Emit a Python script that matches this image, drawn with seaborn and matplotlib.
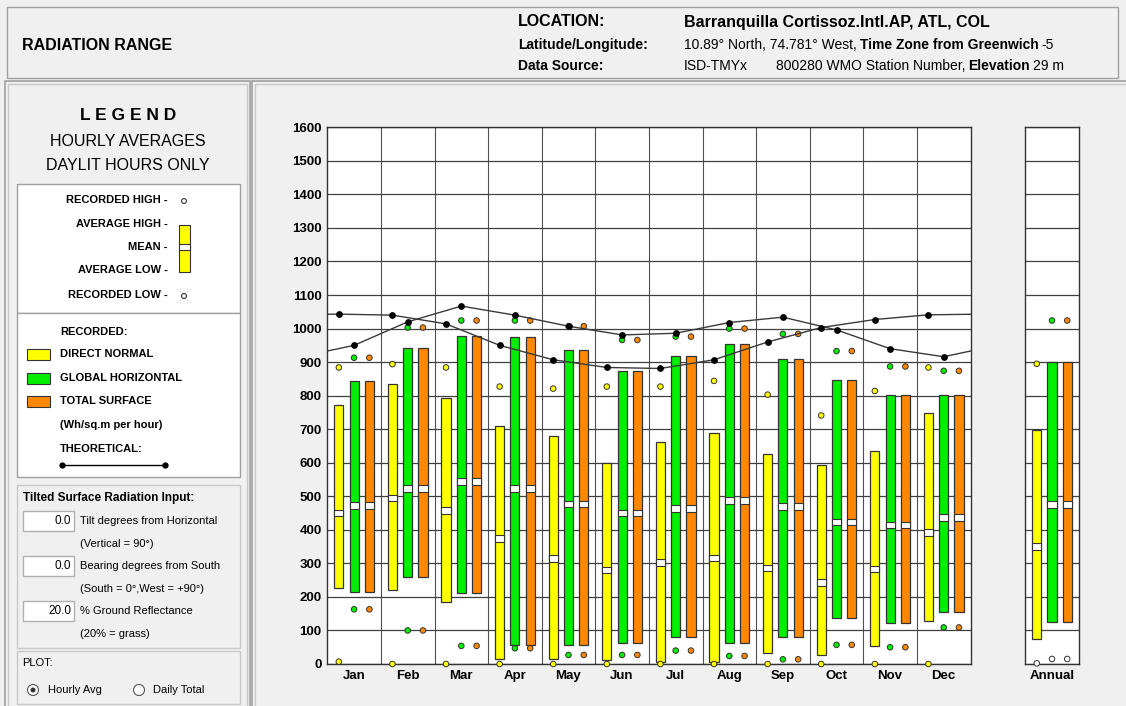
import numpy as np
import pandas as pd
import matplotlib
matplotlib.use("Agg")
import matplotlib.pyplot as plt
from matplotlib.patches import Rectangle, Circle
import seaborn as sns

months = ["Jan", "Feb", "Mar", "Apr", "May", "Jun", "Jul", "Aug", "Sep", "Oct", "Nov", "Dec"]

# direct normal (Wh/sq.m per hour)
dn_avg_high = [773, 836, 792, 710, 680, 599, 663, 690, 626, 592, 636, 747]
dn_avg_low = [227, 221, 186, 14, 16, 12, 7, 7, 34, 27, 54, 127]
dn_mean = [450, 495, 457, 374, 314, 280, 303, 316, 286, 244, 283, 393]
dn_rec_high = [884, 894, 884, 827, 821, 827, 827, 844, 803, 741, 814, 884]
dn_rec_low = [7, 0, 0, 0, 0, 0, 0, 0, 0, 0, 0, 0]

# global horizontal
gh_avg_high = [844, 943, 979, 976, 936, 874, 919, 953, 910, 847, 803, 803]
gh_avg_low = [216, 260, 213, 56, 57, 64, 80, 64, 80, 136, 121, 156]
gh_mean = [473, 524, 544, 524, 477, 450, 463, 487, 470, 423, 414, 436]
gh_rec_high = [913, 1003, 1024, 1024, 1007, 966, 976, 1000, 984, 933, 887, 874]
gh_rec_low = [163, 100, 54, 47, 27, 27, 40, 24, 14, 57, 50, 109]

# total surface (tilt 0 -> same as global horizontal)
ts_avg_high = [844, 943, 979, 976, 936, 874, 919, 953, 910, 847, 803, 803]
ts_avg_low = [216, 260, 213, 56, 57, 64, 80, 64, 80, 136, 121, 156]
ts_mean = [473, 524, 544, 524, 477, 450, 463, 487, 470, 423, 414, 436]
ts_rec_high = [913, 1003, 1024, 1024, 1007, 966, 976, 1000, 984, 933, 887, 874]
ts_rec_low = [163, 100, 54, 47, 27, 27, 40, 24, 14, 57, 50, 109]

# theoretical
dn_theo = [1043, 1040, 1014, 950, 907, 884, 881, 907, 960, 1003, 1027, 1041]
gh_theo = [950, 1020, 1067, 1040, 1007, 981, 986, 1018, 1034, 996, 940, 916]

# annual: avg high, avg low, mean, recorded high, recorded low
annual_dn = [699, 76, 351, 895, 2]
annual_gh = [900, 124, 476, 1024, 15]
annual_ts = [900, 124, 476, 1024, 15]

yticks = list(range(0, 1700, 100))

W, H = 1126, 706
BG = "#f0f0f0"
EDGE = "#333333"
colors = {"dn": "#ffff00", "gh": "#00ee00", "ts": "#ff8800"}
offsets = {"dn": -0.285, "gh": 0.0, "ts": 0.285}
BW = 0.17

sns.set_style("white")
plt.rcParams["font.family"] = ["Liberation Sans", "DejaVu Sans"]
plt.rcParams["text.color"] = "black"
plt.rcParams["xtick.color"] = "black"
plt.rcParams["ytick.color"] = "black"

fig = plt.figure(figsize=(W / 100, H / 100), dpi=100, facecolor=BG)

def rect(x0, y0, x1, y1):
    return [x0 / W, 1 - y1 / H, (x1 - x0) / W, (y1 - y0) / H]

# background / chrome axes in pixel coordinates
bg = fig.add_axes([0, 0, 1, 1])
bg.set_xlim(0, W)
bg.set_ylim(H, 0)
bg.axis("off")

def box(x0, y0, x1, y1, fc=BG, ec="#a0a0a0", lw=1):
    bg.add_patch(Rectangle((x0, y0), x1 - x0, y1 - y0, fc=fc, ec=ec, lw=lw))

box(7, 7, 1118, 78)
box(5, 81, 250, 708, ec="#a0a0a0", lw=1.2)
box(8, 84, 247, 708, ec="#c8c8c8")
box(252, 81, 1130, 708, ec="#a0a0a0", lw=1.2)
box(255, 84, 1130, 708, ec="#c8c8c8")
box(17, 184, 240, 313, fc="white", ec="#a0a0a0")
box(17, 313, 240, 477, fc="white", ec="#a0a0a0")
box(17, 485, 240, 648, ec="#c8c8c8")
box(17, 651, 240, 704, ec="#c8c8c8")

def rich(x, y, parts, size, **kw):
    r = fig.canvas.get_renderer()
    for s, wt in parts:
        t = bg.text(x, y, s, fontsize=size, fontweight=wt, va="center", ha="left", **kw)
        x = t.get_window_extent(renderer=r).x1 + 3

# header
bg.text(22, 45, "RADIATION RANGE", fontsize=11.5, fontweight="bold", va="center")
bg.text(518, 22, "LOCATION:", fontsize=11.5, fontweight="bold", va="center")
bg.text(684, 22, "Barranquilla Cortissoz.Intl.AP, ATL, COL", fontsize=11.5, fontweight="bold", va="center")
bg.text(518, 45, "Latitude/Longitude:", fontsize=10, fontweight="bold", va="center")
rich(684, 45, [("10.89° North, 74.781° West,", "normal"), ("Time Zone from Greenwich", "bold"), ("-5", "normal")], 10)
bg.text(518, 66, "Data Source:", fontsize=10, fontweight="bold", va="center")
bg.text(684, 66, "ISD-TMYx", fontsize=10, va="center")
rich(776, 66, [("800280 WMO Station Number,", "normal"), ("Elevation", "bold"), ("29 m", "normal")], 10)

# legend panel
bg.text(128, 115, "L E G E N D", fontsize=12.5, fontweight="bold", ha="center", va="center")
bg.text(128, 142, "HOURLY AVERAGES", fontsize=11.5, ha="center", va="center")
bg.text(128, 165, "DAYLIT HOURS ONLY", fontsize=11.5, ha="center", va="center")
for yy, s in [(200, "RECORDED HIGH -"), (224, "AVERAGE HIGH -"), (247, "MEAN -"),
              (270, "AVERAGE LOW -"), (295, "RECORDED LOW -")]:
    bg.text(168, yy, s, fontsize=8, fontweight="bold", ha="right", va="center")
bg.add_patch(Circle((184, 201), 2.4, fc="white", ec=EDGE, lw=0.8))
bg.add_patch(Circle((184, 296), 2.4, fc="white", ec=EDGE, lw=0.8))
bg.add_patch(Rectangle((179, 225), 11, 47, fc=colors["dn"], ec=EDGE, lw=0.8))
bg.add_patch(Rectangle((179, 244), 11, 6, fc="white", ec=EDGE, lw=0.8))

bg.text(60, 332, "RECORDED:", fontsize=8, fontweight="bold", va="center")
for yy, key, s in [(354, "dn", "DIRECT NORMAL"), (378, "gh", "GLOBAL HORIZONTAL"), (401, "ts", "TOTAL SURFACE")]:
    bg.add_patch(Rectangle((27, yy - 5), 23, 11, fc=colors[key], ec=EDGE, lw=0.8))
    bg.text(60, yy, s, fontsize=8, fontweight="bold", va="center")
bg.text(60, 425, "(Wh/sq.m per hour)", fontsize=8, fontweight="bold", va="center")
bg.text(60, 449, "THEORETICAL:", fontsize=8, fontweight="bold", va="center")
bg.plot([62, 165], [465, 465], color="black", lw=1, marker="o", ms=3.5)

bg.text(23, 498, "Tilted Surface Radiation Input:", fontsize=8.5, fontweight="bold", va="center")
for yy, val, s1, s2 in [(521, "0.0", "Tilt degrees from Horizontal", "(Vertical = 90°)"),
                        (566, "0.0", "Bearing degrees from South", "(South = 0°,West = +90°)"),
                        (611, "20.0", "% Ground Reflectance", "(20% = grass)")]:
    box(23, yy - 10, 74, yy + 10, fc="white", ec="#b0b0b0")
    bg.text(71, yy, val, fontsize=8.5, ha="right", va="center")
    bg.text(80, yy, s1, fontsize=8, va="center")
    bg.text(80, yy + 23, s2, fontsize=8, va="center")
bg.text(22, 663, "PLOT:", fontsize=8, va="center")
bg.add_patch(Circle((33, 690), 5.5, fc="white", ec="#555555", lw=0.8))
bg.add_patch(Circle((33, 690), 2.5, fc="#333333", ec="none"))
bg.text(48, 690, "Hourly Avg", fontsize=8, va="center")
bg.add_patch(Circle((139, 690), 5.5, fc="white", ec="#555555", lw=0.8))
bg.text(153, 690, "Daily Total", fontsize=8, va="center")

# main chart
ax = fig.add_axes(rect(327.3, 127.3, 970.5, 664))
axa = fig.add_axes(rect(1025.3, 127.3, 1078.7, 664))

series = {
    "dn": (dn_avg_high, dn_avg_low, dn_mean, dn_rec_high, dn_rec_low),
    "gh": (gh_avg_high, gh_avg_low, gh_mean, gh_rec_high, gh_rec_low),
    "ts": (ts_avg_high, ts_avg_low, ts_mean, ts_rec_high, ts_rec_low),
}
annual = {"dn": annual_dn, "gh": annual_gh, "ts": annual_ts}

idx = np.arange(len(months))
rows = []
for key, (hi, lo, mn, rh, rl) in series.items():
    x = idx + offsets[key]
    hi, lo, mn = np.array(hi), np.array(lo), np.array(mn)
    ax.bar(x, hi - lo, bottom=lo, width=BW, color=colors[key], edgecolor=EDGE, lw=0.9, zorder=3)
    ax.bar(x, 20, bottom=mn - 10, width=BW, color="white", edgecolor=EDGE, lw=0.8, zorder=4)
    for xi, a, b in zip(x, rh, rl):
        rows.append({"x": xi, "value": a, "series": key})
        rows.append({"x": xi, "value": b, "series": key})
pts = pd.DataFrame(rows)
sns.scatterplot(data=pts, x="x", y="value", hue="series", palette=colors, s=16,
                edgecolor=EDGE, linewidth=0.7, legend=False, ax=ax, zorder=5, clip_on=False)

for key, theo in [("dn", dn_theo), ("gh", gh_theo)]:
    xs = np.r_[-1, idx, 12] + offsets[key]
    ys = np.r_[theo[-1], theo, theo[0]]
    sns.lineplot(x=xs, y=ys, ax=ax, color="#3a3a3a", lw=1, sort=False, zorder=6)
    sns.scatterplot(x=idx + offsets[key], y=theo, ax=ax, color="black", s=24,
                    edgecolor="black", linewidth=0, zorder=7, legend=False)

ax.set_xlim(-0.5, 11.5)
ax.set_ylim(0, 1600)
ax.set_yticks(yticks)
ax.set_xticks(idx)
ax.set_xticklabels(months, fontsize=9.5, fontweight="bold")
ax.set_yticklabels([str(v) for v in yticks], fontsize=9.5, fontweight="bold")
ax.set_xticks(idx[:-1] + 0.5, minor=True)
ax.grid(axis="y", which="major", color="#404040", lw=0.9, zorder=1)
ax.grid(axis="x", which="minor", color="#505050", lw=0.8, zorder=1)
ax.grid(axis="x", which="major", visible=False)
ax.set_axisbelow(True)
ax.tick_params(axis="both", which="both", length=0)
ax.tick_params(axis="y", pad=4)
ax.tick_params(axis="x", pad=4)
ax.set_xlabel("")
ax.set_ylabel("")

# annual panel
arows = []
for key, (hi, lo, mn, rh, rl) in annual.items():
    x = offsets[key]
    axa.bar([x], [hi - lo], bottom=[lo], width=BW, color=colors[key], edgecolor=EDGE, lw=0.9, zorder=3)
    axa.bar([x], [20], bottom=[mn - 10], width=BW, color="white", edgecolor=EDGE, lw=0.8, zorder=4)
    arows.append({"x": x, "value": rh, "kind": key})
    arows.append({"x": x, "value": rl, "kind": "low"})
apts = pd.DataFrame(arows)
sns.scatterplot(data=apts, x="x", y="value", hue="kind",
                palette={**colors, "low": "white"}, s=16, edgecolor=EDGE, linewidth=0.7,
                legend=False, ax=axa, zorder=5, clip_on=False)
axa.set_xlim(-0.5, 0.5)
axa.set_ylim(0, 1600)
axa.set_yticks(yticks)
axa.set_yticklabels([])
axa.set_xticks([0])
axa.set_xticklabels(["Annual"], fontsize=9.5, fontweight="bold")
axa.grid(axis="y", color="#404040", lw=0.9, zorder=1)
axa.set_axisbelow(True)
axa.tick_params(axis="both", length=0, pad=4)
axa.set_xlabel("")
axa.set_ylabel("")

for a in (ax, axa):
    a.set_facecolor("white")
    for sp in a.spines.values():
        sp.set_color("#333333")
        sp.set_linewidth(1)

fig.savefig("out.png", dpi=100, facecolor=BG)
